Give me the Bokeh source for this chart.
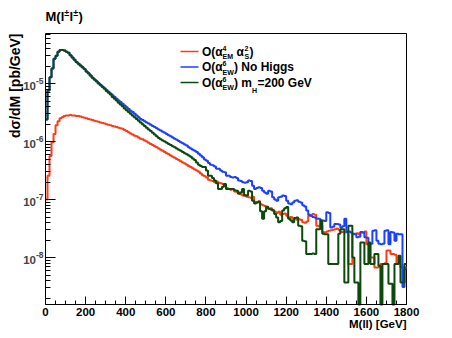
import math
from bokeh.plotting import figure
from bokeh.models import (Range1d, Label, FixedTicker, CustomJSTickFormatter,
                          LinearAxis, LogAxis)
from bokeh.embed import file_html
from bokeh.resources import INLINE

# ---------------- data ----------------
# histogram binning, GeV
bin_edges_gev = list(range(0, 1801, 10))
# log10 of dsigma/dM [pb/GeV] per 10 GeV bin, read on the log axis; None = empty bin
red_log10 = [
    -7.00, -6.59, -6.25, -6.01, -5.87, -5.72, -5.65, -5.60, -5.58, -5.56,
    -5.55, -5.55, -5.54, -5.55, -5.55, -5.56, -5.56, -5.57, -5.58, -5.59,
    -5.60, -5.61, -5.62, -5.63, -5.64, -5.65, -5.66, -5.67, -5.68, -5.69,
    -5.70, -5.71, -5.72, -5.73, -5.74, -5.75, -5.76, -5.77, -5.78, -5.80,
    -5.82, -5.84, -5.86, -5.88, -5.90, -5.91, -5.93, -5.95, -5.96, -5.98,
    -6.00, -6.02, -6.04, -6.06, -6.08, -6.10, -6.12, -6.14, -6.16, -6.18,
    -6.20, -6.22, -6.24, -6.26, -6.28, -6.30, -6.32, -6.34, -6.36, -6.38,
    -6.40, -6.42, -6.44, -6.46, -6.48, -6.50, -6.52, -6.55, -6.58, -6.60,
    -6.62, -6.66, -6.67, -6.68, -6.70, -6.69, -6.71, -6.72, -6.73, -6.74,
    -6.80, -6.82, -6.83, -6.82, -6.86, -6.87, -6.88, -6.91, -6.93, -6.92,
    -6.95, -6.96, -6.97, -6.95, -7.04, -7.05, -7.03, -7.08, -7.10, -7.11,
    -7.12, -7.16, -7.15, -7.18, -7.21, -7.23, -7.21, -7.26, -7.25, -7.24,
    -7.28, -7.31, -7.30, -7.33, -7.32, -7.35, -7.34, -7.35, -7.39, -7.40,
    -7.38, -7.28, -7.27, -7.25, -7.26, -7.45, -7.46, -7.44, -7.56, -7.57,
    -7.55, -7.54, -7.53, -7.52, -7.51, -7.50, -7.52, -7.56, -7.56, -7.57,
    -7.55, -8.11, -8.11, -7.60, -7.59, -7.58, -7.60, -7.56, -7.57, -7.55,
    -7.77, -7.76, -8.00, -8.00, -8.17, -8.17, -8.16, -8.11, -8.11, -8.10,
    -7.88, -7.88, -7.94, -7.94, -7.95, -8.11, -8.11, -8.17, -8.17, -8.17,
]
blue_log10 = [
    -5.62, -5.12, -4.89, -4.74, -4.57, -4.52, -4.45, -4.42, -4.42, -4.43,
    -4.45, -4.47, -4.51, -4.55, -4.59, -4.63, -4.66, -4.69, -4.72, -4.75,
    -4.79, -4.82, -4.86, -4.90, -4.93, -4.96, -4.99, -5.02, -5.05, -5.08,
    -5.11, -5.14, -5.17, -5.20, -5.23, -5.26, -5.29, -5.32, -5.35, -5.38,
    -5.41, -5.44, -5.47, -5.49, -5.52, -5.55, -5.58, -5.61, -5.63, -5.65,
    -5.67, -5.69, -5.71, -5.73, -5.75, -5.77, -5.79, -5.81, -5.83, -5.85,
    -5.87, -5.89, -5.91, -5.93, -5.95, -5.97, -5.99, -6.01, -6.03, -6.05,
    -6.07, -6.10, -6.12, -6.14, -6.16, -6.18, -6.21, -6.24, -6.27, -6.31,
    -6.33, -6.37, -6.40, -6.41, -6.43, -6.47, -6.47, -6.50, -6.52, -6.53,
    -6.59, -6.59, -6.61, -6.62, -6.61, -6.63, -6.67, -6.68, -6.70, -6.71,
    -6.70, -6.67, -6.68, -6.76, -6.82, -6.80, -6.79, -6.80, -6.85, -6.88,
    -6.90, -6.85, -6.86, -6.96, -7.00, -7.02, -6.96, -6.95, -6.93, -6.94,
    -7.02, -7.07, -7.08, -7.05, -7.02, -7.01, -7.04, -7.05, -7.10, -7.12,
    -7.19, -7.26, -7.28, -7.30, -7.31, -7.33, -7.33, -7.36, -7.36, -7.37,
    -7.22, -7.23, -7.48, -7.47, -7.42, -7.42, -7.43, -7.48, -7.46, -7.33,
    -7.56, -7.55, -7.57, -7.59, -7.60, -7.65, -7.64, -7.56, -7.57, -7.65,
    -7.66, -7.77, -7.76, -7.54, -7.53, -7.71, -7.76, -7.77, -7.76, -7.54,
    -7.53, -7.77, -7.56, -7.57, -7.71, -7.59, -7.60, -7.60, -8.51, -8.20,
]
green_log10 = [
    -5.62, -5.12, -4.89, -4.74, -4.57, -4.52, -4.45, -4.42, -4.42, -4.43,
    -4.45, -4.47, -4.51, -4.55, -4.59, -4.63, -4.66, -4.69, -4.72, -4.75,
    -4.79, -4.82, -4.86, -4.90, -4.93, -4.96, -5.00, -5.03, -5.06, -5.09,
    -5.13, -5.16, -5.19, -5.23, -5.26, -5.29, -5.33, -5.36, -5.39, -5.43,
    -5.46, -5.49, -5.52, -5.55, -5.58, -5.61, -5.64, -5.67, -5.70, -5.73,
    -5.76, -5.79, -5.82, -5.85, -5.88, -5.91, -5.94, -5.96, -5.98, -6.00,
    -6.02, -6.04, -6.06, -6.08, -6.10, -6.12, -6.14, -6.16, -6.18, -6.20,
    -6.22, -6.24, -6.26, -6.29, -6.32, -6.36, -6.40, -6.42, -6.44, -6.44,
    -6.50, -6.59, -6.59, -6.63, -6.67, -6.72, -6.82, -6.82, -6.78, -6.73,
    -6.82, -6.82, -6.82, -6.82, -6.84, -6.85, -6.90, -6.88, -6.82, -6.93,
    -6.93, -6.85, -6.86, -7.02, -7.07, -7.05, -7.04, -7.20, -7.33, -7.20,
    -7.13, -7.16, -7.17, -7.19, -7.25, -7.31, -7.39, -7.37, -7.19, -7.15,
    -7.13, -7.33, -7.36, -7.39, -7.32, -7.31, -7.45, -7.46, -7.71, -7.72,
    -7.94, -7.94, -7.94, -7.93, -7.94, -7.51, -7.51, -7.36, -7.59, -7.60,
    -7.60, -8.11, -8.11, -8.11, -8.11, -8.11, -7.59, -7.51, -7.51, -8.43,
    -8.43, -7.45, -7.45, -8.00, -8.43, -8.43, None, -7.74, -7.74, -8.11,
    -8.11, -7.74, -8.11, -8.11, -7.94, -7.94, -8.14, None, -8.11, -8.11,
    -8.11, -8.45, -8.45, None, -8.11, -8.11, -7.97, -8.43, -8.43, -8.11,
]
x_ticks = [0, 200, 400, 600, 800, 1000, 1200, 1400, 1600, 1800]
y_decades = [-5, -6, -7, -8]
x_min, x_max = 0, 1800
y_min, y_max = 1.55e-9, 7.3e-5

RED, BLUE, GREEN = "#ff3a14", "#1c40ff", "#0c4a0c"
FONT = "Liberation Sans"

# ---------------- layout: plot frame fills the canvas, ROOT pad drawn inside ----------------
W, H = 452, 338
PL, PR, PT, PB = 45, 406, 33, 304     # pixel box of the histogram pad
gev_per_px = (x_max - x_min) / (PR - PL)
dec_per_px = (math.log10(y_max) - math.log10(y_min)) / (PB - PT)
xr = Range1d(x_min - PL * gev_per_px, x_max + (W - PR) * gev_per_px)
yr = Range1d(10 ** (math.log10(y_min) - (H - PB) * dec_per_px),
             10 ** (math.log10(y_max) + PT * dec_per_px))

p = figure(width=W, height=H, output_backend="svg", toolbar_location=None,
           x_range=xr, y_range=yr, y_axis_type="log",
           x_axis_location=None, y_axis_location=None,
           min_border=0, min_border_left=0, min_border_right=0,
           min_border_top=0, min_border_bottom=0)
p.background_fill_color = "white"
p.border_fill_color = "white"
p.outline_line_color = None
p.grid.visible = False

blank = CustomJSTickFormatter(code="return ''")

x_minor = [m for m in range(0, 1801, 50)]
xa = LinearAxis(fixed_location=y_min, bounds=(x_min, x_max),
                ticker=FixedTicker(ticks=x_ticks, minor_ticks=x_minor))
xa.major_tick_in, xa.major_tick_out = 8, 0
xa.minor_tick_in, xa.minor_tick_out = 4, 0
xa.major_label_text_font = FONT
xa.major_label_text_font_style = "bold"
xa.major_label_text_font_size = "11.5px"
xa.major_label_text_color = "black"
xa.major_label_standoff = 3
xa.axis_line_color = "black"
p.add_layout(xa, "below")

y_major = [10.0 ** e for e in y_decades]
y_minor = [k * 10.0 ** e for e in range(-10, -3) for k in range(2, 10)
           if y_min <= k * 10.0 ** e <= y_max]
ya = LogAxis(fixed_location=x_min, bounds=(y_min, y_max),
             ticker=FixedTicker(ticks=y_major, minor_ticks=y_minor),
             formatter=blank)
ya.major_tick_in, ya.major_tick_out = 10, 0
ya.minor_tick_in, ya.minor_tick_out = 5, 0
ya.major_label_standoff = 0
ya.axis_line_color = "black"
p.add_layout(ya, "left")

# pad frame (top and right edges)
p.line(x=[x_min, x_max, x_max], y=[y_max, y_max, y_min], line_color="black", line_width=1)

# ---------------- histograms ----------------
def step_xy(logs):
    ys = [max(10.0 ** v, y_min) if v is not None else y_min for v in logs]
    return bin_edges_gev, ys + [ys[-1]]

for logs, col in [(red_log10, RED), (blue_log10, BLUE), (green_log10, GREEN)]:
    xs, ys = step_xy(logs)
    p.step(x=xs, y=ys, mode="after", line_color=col, line_width=2)

# ---------------- text (canvas pixel coordinates) ----------------
def txt(px, py, text, size, align="left", angle=0.0, bold=True):
    p.add_layout(Label(x=px, y=H - py, x_units="screen", y_units="screen",
                       text=text, text_font=FONT, text_font_size=f"{size}px",
                       text_font_style="bold" if bold else "normal",
                       text_align=align, text_baseline="middle", angle=angle,
                       text_color="black"))

# y tick labels 10^n, anchored to each decade value
for e in y_decades:
    p.add_layout(Label(x=35.5, y=10.0 ** e, x_units="screen", y_units="data",
                       text="10", text_font=FONT, text_font_size="11.5px",
                       text_font_style="bold", text_align="right",
                       text_baseline="middle", y_offset=-2.5))
    p.add_layout(Label(x=35.5, y=10.0 ** e, x_units="screen", y_units="data",
                       text=f"-{abs(e)}", text_font=FONT, text_font_size="8.5px",
                       text_font_style="bold", text_align="left",
                       text_baseline="middle", y_offset=3))

# axis titles
txt(406, 323, "M(ll) [GeV]", 11.5, align="right")
txt(14, 33, "d\u03c3/dM [pb/GeV]", 14, align="right", angle=math.pi / 2)

# plot title M(l±l±)
txt(45, 15.5, "M(l", 13)
txt(63.8, 12, "\u00b1", 9)
txt(69.1, 15.5, "l", 13)
txt(72.7, 12, "\u00b1", 9)
txt(78, 15.5, ")", 13)

# legend sample lines (pixel positions mapped through the plot scales)
def px2x(px):
    return xr.start + px * gev_per_px

def py2y(py):
    return 10 ** (math.log10(yr.end) - py * dec_per_px)

rows = [51, 66.5, 82]
for py, col in zip(rows, [RED, BLUE, GREEN]):
    p.line(x=[px2x(180), px2x(198)], y=[py2y(py), py2y(py)], line_color=col, line_width=1.5)

r1, r2, r3 = rows
# row 1: O(α^4_EM α^2_S)
txt(201.5, r1, "O(\u03b1", 12)
txt(222, r1 - 3.5, "4", 7)
txt(222, r1 + 5, "EM", 7)
txt(236, r1, "\u03b1", 12)
txt(244, r1 - 3.5, "2", 7)
txt(244, r1 + 5, "S", 7)
txt(249, r1, ")", 12)
# row 2: O(α^6_EW) No Higgs
txt(201.5, r2, "O(\u03b1", 12)
txt(222, r2 - 3.5, "6", 7)
txt(222, r2 + 5, "EW", 7)
txt(233.5, r2, ") No Higgs", 12)
# row 3: O(α^6_EW) m_H=200 GeV
txt(201.5, r3, "O(\u03b1", 12)
txt(222, r3 - 3.5, "6", 7)
txt(222, r3 + 5, "EW", 7)
txt(233.5, r3, ") m", 12)
txt(251.5, r3 + 8, "H", 7)
txt(257, r3, "=200 GeV", 12)

open("out.html", "w").write(file_html(p, INLINE))
